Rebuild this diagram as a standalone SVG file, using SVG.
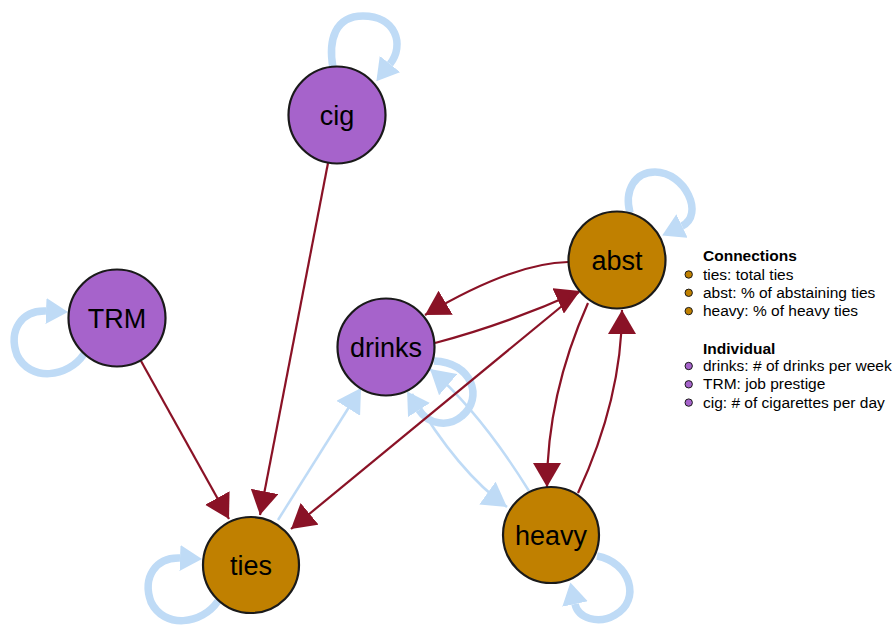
<svg xmlns="http://www.w3.org/2000/svg" width="895" height="629" viewBox="0 0 895 629">
<style>
.red{fill:none;stroke:#8A1226;stroke-width:2.2;marker-end:url(#mr)}
.blue{fill:none;stroke:#BFDBF6;stroke-width:2.5;marker-end:url(#mb)}
.loop{fill:none;stroke:#BFDBF6;stroke-width:7.5;marker-end:url(#ml)}
.node circle{stroke:#1a1a1a;stroke-width:2.2}
.ind circle{fill:#A663CB}
.con circle{fill:#C08000}
.node text{font-family:"Liberation Sans",Arial,sans-serif;font-size:27px;text-anchor:middle;fill:#000}
.lt{font-family:"Liberation Sans",Arial,sans-serif;font-size:15.5px;fill:#000}
.lh{font-family:"Liberation Sans",Arial,sans-serif;font-size:15.5px;font-weight:bold;fill:#000}
.dot{stroke:#1a1a1a;stroke-width:1}
</style>
<defs>
<marker id="mr" markerUnits="userSpaceOnUse" viewBox="0 0 24 28" markerWidth="24" markerHeight="28" refX="24" refY="14" orient="auto"><path d="M0 0L24 14L0 28Z" fill="#8A1226"/></marker>
<marker id="mb" markerUnits="userSpaceOnUse" viewBox="0 0 24 28" markerWidth="24" markerHeight="28" refX="24" refY="14" orient="auto"><path d="M0 0L24 14L0 28Z" fill="#BFDBF6"/></marker>
<marker id="ml" markerUnits="userSpaceOnUse" viewBox="0 0 22 26" markerWidth="22" markerHeight="26" refX="0" refY="13" orient="auto"><path d="M0 0L22 13L0 26Z" fill="#BFDBF6"/></marker>
</defs>
<g id="connectors">
<path class="loop" d="M333 68C328 40 335 16 363 16C396 16 405 45 390 64"/>
<path class="loop" d="M84 354C68 378 30 382 17 355C8 330 22 310 46 311"/>
<path class="loop" d="M218 601C202 625 164 629 151 602C142 577 156 557 180 558"/>
<path class="loop" d="M630 213C624 190 635 172 655 172C685 172 705 215 682 226"/>
<path class="loop" d="M597 556C630 562 642 600 615 615C598 625 578 618 575 604"/>
<path class="loop" d="M434 361C472 362 484 398 462 416C448 428 428 424 419 410"/>
<path class="blue" d="M278 520L361 388"/>
<path class="blue" d="M412 394Q458 472 507 507"/>
<path class="blue" d="M529 491Q480 412 430 369"/>
<path class="red" d="M328 163L260 515"/>
<path class="red" d="M141 361L229 519"/>
<path class="red" d="M568 262Q513 263 425 315"/>
<path class="red" d="M435 343Q507 324 580 291"/>
<path class="red" d="M579 292L291 529"/>
<path class="red" d="M588 303Q547 395 547 487"/>
<path class="red" d="M578 493Q622 398 622 310"/>
</g>
<g id="cig" class="node ind"><circle cx="337" cy="115" r="48.5"/><text x="337" y="125">cig</text></g>
<g id="TRM" class="node ind"><circle cx="117" cy="318" r="48.5"/><text x="117" y="328">TRM</text></g>
<g id="drinks" class="node ind"><circle cx="386" cy="347" r="48.5"/><text x="386" y="357">drinks</text></g>
<g id="abst" class="node con"><circle cx="617" cy="260" r="48.5"/><text x="617" y="270">abst</text></g>
<g id="heavy" class="node con"><circle cx="551" cy="535" r="48"/><text x="551" y="545">heavy</text></g>
<g id="ties" class="node con"><circle cx="251" cy="565" r="48"/><text x="251" y="575">ties</text></g>
<g id="legend">
<text class="lh" x="703" y="261">Connections</text>
<circle class="dot" cx="688.7" cy="274.5" r="3.7" fill="#C08000"/><text class="lt" x="703" y="279.5">ties: total ties</text>
<circle class="dot" cx="688.7" cy="292.8" r="3.7" fill="#C08000"/><text class="lt" x="703" y="297.8">abst: % of abstaining ties</text>
<circle class="dot" cx="688.7" cy="311.1" r="3.7" fill="#C08000"/><text class="lt" x="703" y="316.1">heavy: % of heavy ties</text>
<text class="lh" x="703" y="353.5">Individual</text>
<circle class="dot" cx="688.7" cy="366" r="3.7" fill="#A663CB"/><text class="lt" x="703" y="371">drinks: # of drinks per week</text>
<circle class="dot" cx="688.7" cy="384.3" r="3.7" fill="#A663CB"/><text class="lt" x="703" y="389.3">TRM: job prestige</text>
<circle class="dot" cx="688.7" cy="402.6" r="3.7" fill="#A663CB"/><text class="lt" x="703" y="407.6">cig: # of cigarettes per day</text>
</g>
</svg>
